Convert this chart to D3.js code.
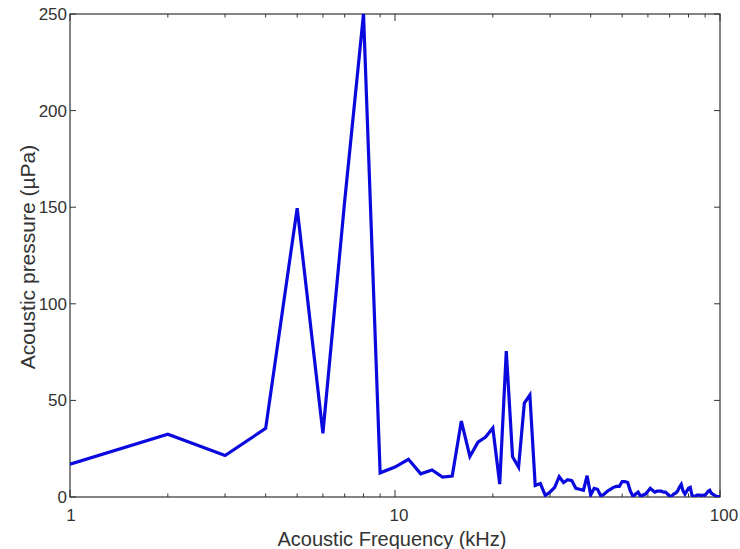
<!DOCTYPE html>
<html>
<head>
<meta charset="utf-8">
<script src="https://cdn.jsdelivr.net/npm/d3@7"></script>
<style>
  html, body { margin: 0; padding: 0; background: #fff; }
  svg text { font-family: "Liberation Sans", Arial, sans-serif; fill: #333; }
</style>
</head>
<body>
<svg id="chart" width="740" height="549"></svg>
<script>
// Frequencies (kHz) and acoustic pressure (µPa)
const frequencies = d3.range(1, 101);
const pressures = [
  17, 32.5, 21.5, 35.5, 149.5, 33, 153, 250, 12.5, 15.5,
  19.5, 12, 14, 10.3, 10.8, 39.3, 21, 28.4, 31, 35.7,
  6.7, 75.5, 20.8, 15.5, 48.6, 52.8, 6, 7, 0.8, 2.6,
  5, 10.5, 7.5, 9, 8.5, 4.5, 4, 3.5, 11, 1,
  4.5, 4, 0.5, 1.5, 3, 4, 5, 5.5, 5.5, 8,
  8, 7.5, 3, 0.3, 1.5, 2.5, 0.3, 1, 1.5, 3,
  4.5, 3.5, 2.5, 3, 3, 3, 2.5, 2.5, 1.5, 0.3,
  0.5, 1.5, 2, 3, 5, 6.5, 3, 1.5, 3, 4.5,
  5, 1, 0.2, 0.5, 1, 1, 1, 0.8, 1, 1,
  2, 3, 3.5, 2, 1.5, 1, 0.5, 0.3, 0.2, 0
];
const xTickValues = [1, 10, 100];
const xMinorTicks = [2,3,4,5,6,7,8,9,20,30,40,50,60,70,80,90];
const yTickValues = [0, 50, 100, 150, 200, 250];
const xLabel = "Acoustic Frequency (kHz)";
const yLabel = "Acoustic pressure (\u00b5Pa)";

const svg = d3.select("#chart");
const L = 70, R = 720, T = 14, B = 497;

const x = d3.scaleLog().domain([1, 100]).range([L, R]);
const y = d3.scaleLinear().domain([0, 250]).range([B, T]);

const axisColor = "#333";
const g = svg.append("g");

// Frame
g.append("rect").attr("x", L).attr("y", T).attr("width", R - L).attr("height", B - T)
  .attr("fill", "none").attr("stroke", axisColor).attr("stroke-width", 1.2);

// X ticks (bottom and top, inward)
const majorLen = 7, minorLen = 3.5;
xTickValues.forEach(v => {
  g.append("line").attr("x1", x(v)).attr("x2", x(v)).attr("y1", B).attr("y2", B - majorLen).attr("stroke", axisColor);
  g.append("line").attr("x1", x(v)).attr("x2", x(v)).attr("y1", T).attr("y2", T + majorLen).attr("stroke", axisColor);
});
xMinorTicks.forEach(v => {
  g.append("line").attr("x1", x(v)).attr("x2", x(v)).attr("y1", B).attr("y2", B - minorLen).attr("stroke", axisColor);
  g.append("line").attr("x1", x(v)).attr("x2", x(v)).attr("y1", T).attr("y2", T + minorLen).attr("stroke", axisColor);
});
// Y ticks (left and right, inward)
yTickValues.forEach(v => {
  g.append("line").attr("x1", L).attr("x2", L + 6).attr("y1", y(v)).attr("y2", y(v)).attr("stroke", axisColor);
  g.append("line").attr("x1", R).attr("x2", R - 6).attr("y1", y(v)).attr("y2", y(v)).attr("stroke", axisColor);
});

// Tick labels
g.selectAll(".xl").data(xTickValues).enter().append("text")
  .attr("x", d => x(d) + (d === 1 ? 1 : 4)).attr("y", 521)
  .attr("text-anchor", "middle").attr("font-size", 17).text(d => d);
g.selectAll(".yl").data(yTickValues).enter().append("text")
  .attr("x", 67).attr("y", d => y(d) + 6)
  .attr("text-anchor", "end").attr("font-size", 17).text(d => d);

// Axis titles
g.append("text").attr("x", 392).attr("y", 546).attr("text-anchor", "middle")
  .attr("font-size", 20).text(xLabel);
g.append("text").attr("transform", "translate(35,257) rotate(-90)")
  .attr("text-anchor", "middle").attr("font-size", 21).text(yLabel);

// Data line
const data = frequencies.map((f, i) => ({ f, p: pressures[i] }));
svg.append("clipPath").attr("id", "clip").append("rect")
  .attr("x", L).attr("y", T - 1).attr("width", R - L).attr("height", B - T + 1);
svg.append("path").datum(data)
  .attr("clip-path", "url(#clip)")
  .attr("fill", "none").attr("stroke", "#0a0ade").attr("stroke-width", 3.2)
  .attr("stroke-linejoin", "miter")
  .attr("d", d3.line().x(d => x(d.f)).y(d => y(d.p)));
</script>
</body>
</html>
